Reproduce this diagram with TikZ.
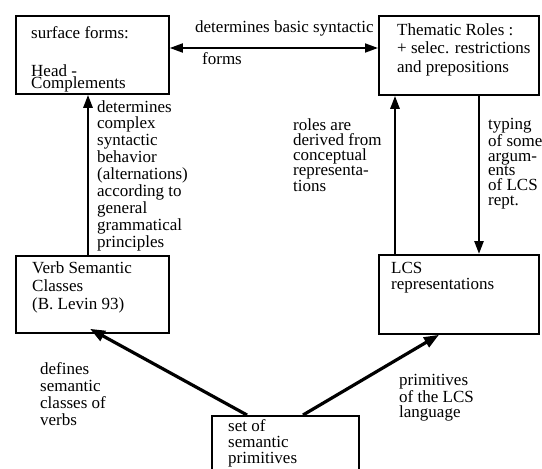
\documentclass[tikz,border=0pt]{standalone}
\usepackage{fontspec}
\setmainfont{Liberation Serif}
\usetikzlibrary{arrows.meta}
\begin{document}
\begin{tikzpicture}[x=1pt,y=-1pt,
  box/.style={draw, line width=1.8pt, rectangle, inner sep=0pt, anchor=north west},
  lbl/.style={anchor=base west, align=left, inner sep=0pt},
  arr/.style={line width=2.6pt, -{Triangle[length=13pt,width=9pt]}},
  darr/.style={line width=3.2pt, -{Triangle[length=15pt,width=11pt]}},
  dbl/.style={line width=1.8pt, {Triangle[length=13pt,width=9pt]}-{Triangle[length=13pt,width=9pt]}}]
\useasboundingbox (0,0) rectangle (542,469);
\clip (0,0) rectangle (542,469);
% boxes
\node[box, minimum width=153pt, minimum height=78pt] (surf) at (15,15) {};
\node[box, minimum width=160pt, minimum height=79pt] (them) at (378,15) {};
\node[box, minimum width=153pt, minimum height=77pt] (verb) at (15,255) {};
\node[box, minimum width=160pt, minimum height=79pt] (lcs) at (378,254) {};
\node[box, minimum width=147pt, minimum height=80pt] (prim) at (211,415) {};
% box texts (anchor = baseline of the last line)
\node[lbl, font=\fontsize{17}{19}\selectfont] (tsurf) at (31,38) {surface forms:};
\node[lbl, font=\fontsize{17}{12.5}\selectfont] (thead) at (31,88.5) {Head -\\Complements};
\node[lbl, font=\fontsize{17}{18.5}\selectfont] (tthem) at (397,72) {Thematic Roles :\\+ selec. restrictions\\and prepositions};
\node[lbl, font=\fontsize{17}{18}\selectfont] (tverb) at (32,309) {Verb Semantic\\Classes\\(B. Levin 93)};
\node[lbl, font=\fontsize{17}{16.5}\selectfont] (tlcs) at (391,289.5) {LCS\\representations};
\node[lbl, font=\fontsize{17}{16}\selectfont] (tprim) at (228,463) {set of\\semantic\\primitives};
% connector labels
\node[lbl, font=\fontsize{17}{17}\selectfont] (tdbs) at (195,32) {determines basic syntactic};
\node[lbl, font=\fontsize{17}{17}\selectfont] (tforms) at (202,64) {forms};
\node[lbl, font=\fontsize{17}{16.9}\selectfont] (tdet) at (97,247.2) {determines\\complex\\syntactic\\behavior\\(alternations)\\according to\\general\\grammatical\\principles};
\node[lbl, font=\fontsize{17}{14.8}\selectfont] (troles) at (293,191.2) {roles are\\derived from\\conceptual\\representa-\\tions};
\node[lbl, font=\fontsize{17}{14.6}\selectfont] (ttyping) at (488,205) {typing\\of some\\argum-\\ents\\of LCS\\rept.};
\node[lbl, font=\fontsize{17}{17}\selectfont] (tdef) at (40,425) {defines\\semantic\\classes of\\verbs};
\node[lbl, font=\fontsize{17}{15}\selectfont] (tplcs) at (399,417) {primitives\\of the LCS\\language};
% connectors
\draw[dbl] ([yshift=-33pt]surf.north east) -- ([yshift=-33pt]them.north west);
\draw[arr] ([xshift=73pt]verb.north west) -- ([xshift=73pt]surf.south west);
\draw[arr] ([xshift=17pt]lcs.north west) -- ([xshift=17pt]them.south west);
\draw[arr] ([xshift=101pt]them.south west) -- ([xshift=101pt]lcs.north west);
\draw[darr] ([xshift=36pt]prim.north west) -- ([xshift=75pt,yshift=5pt]verb.south west);
\draw[darr] ([xshift=92pt]prim.north west) -- ([xshift=61pt]lcs.south west);
\end{tikzpicture}
\end{document}
